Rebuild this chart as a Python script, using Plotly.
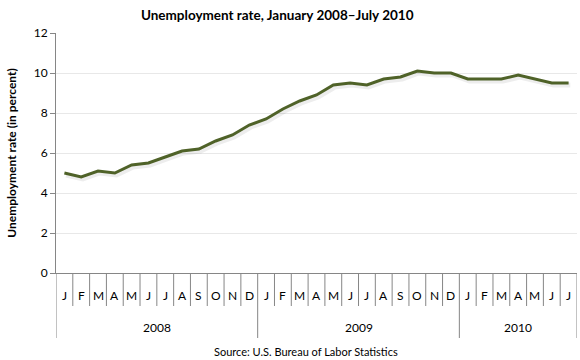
import plotly.graph_objects as go

# ---- data ----
months = ["J", "F", "M", "A", "M", "J", "J", "A", "S", "O", "N", "D",
          "J", "F", "M", "A", "M", "J", "J", "A", "S", "O", "N", "D",
          "J", "F", "M", "A", "M", "J", "J"]
years = ["2008", "2009", "2010"]
months_per_year = [12, 12, 7]
rate = [5.0, 4.8, 5.1, 5.0, 5.4, 5.5, 5.8, 6.1, 6.2, 6.6, 6.9, 7.4,
        7.7, 8.2, 8.6, 8.9, 9.4, 9.5, 9.4, 9.7, 9.8, 10.1, 10.0, 10.0,
        9.7, 9.7, 9.7, 9.9, 9.7, 9.5, 9.5]
y_ticks = [0, 2, 4, 6, 8, 10, 12]

FONT = "Lato"
LINE = "#4F6228"
AXIS = "#868686"

x = list(range(len(rate)))
plot_h = 240.0  # pixels of plot area height

fig = go.Figure()
# soft shadow
fig.add_trace(go.Scatter(x=[v + 0.1 for v in x], y=[v - 0.1 for v in rate],
                         mode="lines", line=dict(color="rgba(0,0,0,0.07)", width=5),
                         hoverinfo="skip", showlegend=False))
fig.add_trace(go.Scatter(x=x, y=rate, mode="lines",
                         line=dict(color=LINE, width=3), showlegend=False))

shapes = []
annotations = []
month_len = 33 / plot_h
year_len = 65 / plot_h
year_bounds = [-0.5]
acc = -0.5
for n in months_per_year:
    acc += n
    year_bounds.append(acc)
for i in range(len(months) + 1):
    b = i - 0.5
    ln = year_len if any(abs(b - yb) < 1e-9 for yb in year_bounds) else month_len
    shapes.append(dict(type="line", xref="x", yref="paper", x0=b, x1=b,
                       y0=0, y1=-ln, line=dict(color=AXIS, width=1)))
for i, m in enumerate(months):
    annotations.append(dict(x=i, y=-22 / plot_h, xref="x", yref="paper", text=m,
                            showarrow=False, xanchor="center", yanchor="middle",
                            font=dict(family=FONT, size=12, color="#000000")))
start = -0.5
for yr, n in zip(years, months_per_year):
    annotations.append(dict(x=start + n / 2, y=-54 / plot_h, xref="x", yref="paper",
                            text=yr, showarrow=False, xanchor="center", yanchor="middle",
                            font=dict(family=FONT, size=12, color="#000000")))
    start += n
annotations.append(dict(x=0.48, xref="paper", y=-78 / plot_h, yref="paper",
                        text="Source: U.S. Bureau of Labor Statistics", showarrow=False,
                        xanchor="center", yanchor="middle",
                        font=dict(family=FONT, size=11, color="#000000")))

fig.update_layout(
    width=580, height=360, autosize=False,
    margin=dict(l=56, r=3, t=33, b=87),
    paper_bgcolor="white", plot_bgcolor="white",
    title=dict(text="<b>Unemployment rate, January 2008\u2013July 2010</b>",
               x=0.478, xanchor="center", y=1 - 15 / 360, yanchor="middle",
               font=dict(family=FONT, size=13.5, color="#000000")),
    xaxis=dict(range=[-0.5, len(rate) - 0.5], showgrid=False, zeroline=False,
               showline=True, linecolor=AXIS, linewidth=1, showticklabels=False,
               ticks="", fixedrange=True),
    yaxis=dict(range=[0, 12], tickvals=y_ticks, showgrid=True, gridcolor="#E8E8E8",
               zeroline=False, showline=True, linecolor=AXIS, linewidth=1,
               ticks="outside", ticklen=5, tickcolor=AXIS,
               tickfont=dict(family=FONT, size=12, color="#000000"),
               title=dict(text="<b>Unemployment rate (in percent)</b>", standoff=14,
                          font=dict(family=FONT, size=12, color="#000000")),
               fixedrange=True),
    shapes=shapes, annotations=annotations,
)

fig.write_html("out.html", config={"displayModeBar": False},
               post_script="document.body.style.margin='0';")
